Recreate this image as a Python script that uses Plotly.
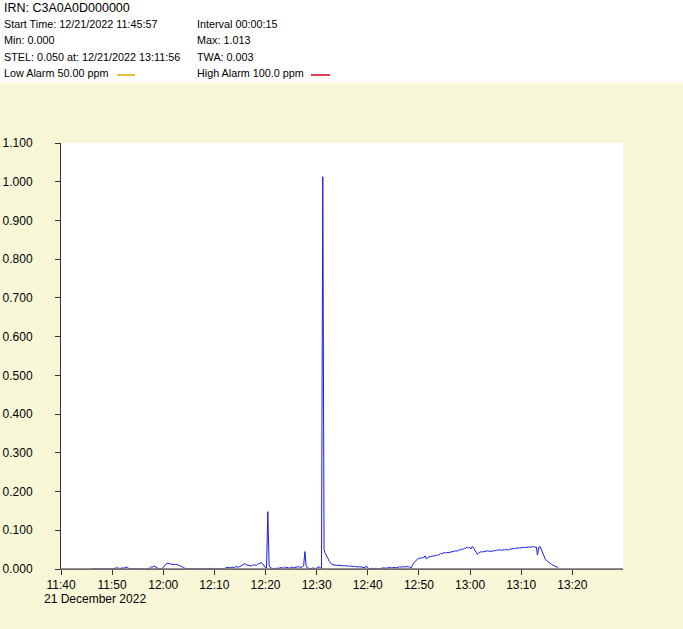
import pandas as pd
import plotly.graph_objects as go

# ---- header info ----
irn = "IRN: C3A0A0D000000"
start_time = "2022-12-21 11:45:57"
interval_s = 15
header_left = ["Start Time: 12/21/2022 11:45:57", "Min: 0.000",
               "STEL: 0.050 at: 12/21/2022 13:11:56", "Low Alarm 50.00 ppm"]
header_right = ["Interval 00:00:15", "Max: 1.013", "TWA: 0.003", "High Alarm 100.0 ppm"]
date_label = "21 December 2022"

# ---- readings (ppm), one row per minute, 15 s interval ----
values = [
    0, 0, 0, 0,                      # 11:46
    0, 0, 0, 0,                      # 11:47
    0, 0, 0, 0,                      # 11:48
    0, 0, 0, 0,                      # 11:49
    0, 0, 0.002, 0.003,              # 11:50
    0.002, 0.003, 0, 0.002,          # 11:51
    0.003, 0.002, 0.003, 0.004,      # 11:52
    0.005, 0.002, 0, 0,              # 11:53
    0, 0, 0, 0,                      # 11:54
    0, 0, 0, 0,                      # 11:55
    0, 0, 0, 0,                      # 11:56
    0, 0, 0.004, 0.006,              # 11:57
    0.005, 0.008, 0.006, 0.003,      # 11:58
    0.002, 0, 0, 0,                  # 11:59
    0.003, 0.008, 0.012, 0.014,      # 12:00
    0.015, 0.014, 0.013, 0.012,      # 12:01
    0.012, 0.011, 0.012, 0.010,      # 12:02
    0.010, 0.009, 0.008, 0.006,      # 12:03
    0.004, 0.002, 0, 0,              # 12:04
    0, 0, 0, 0,                      # 12:05
    0, 0, 0, 0,                      # 12:06
    0, 0, 0, 0,                      # 12:07
    0, 0, 0, 0,                      # 12:08
    0, 0.002, 0, 0,                  # 12:09
    0, 0, 0, 0,                      # 12:10
    0, 0, 0, 0,                      # 12:11
    0, 0.003, 0.004, 0.003,          # 12:12
    0.004, 0.003, 0.005, 0.004,      # 12:13
    0.004, 0.006, 0.005, 0.005,      # 12:14
    0.006, 0.008, 0.010, 0.012,      # 12:15
    0.014, 0.011, 0.010, 0.009,      # 12:16
    0.010, 0.008, 0.009, 0.011,      # 12:17
    0.010, 0.009, 0.012, 0.013,      # 12:18
    0.015, 0.017, 0.012, 0.008,      # 12:19
    0.004, 0.003, 0.148, 0.010,      # 12:20
    0.003, 0.002, 0, 0,              # 12:21
    0.002, 0, 0.003, 0.002,          # 12:22
    0.004, 0.003, 0.002, 0.005,      # 12:23
    0.003, 0.004, 0.003, 0.002,      # 12:24
    0.004, 0.005, 0.003, 0.004,      # 12:25
    0.005, 0.004, 0.006, 0.005,      # 12:26
    0.004, 0.006, 0.008, 0.045,      # 12:27
    0.008, 0.003, 0.002, 0,          # 12:28
    0, 0.002, 0.003, 0,              # 12:29
    0.002, 0.004, 0.006, 0.003,      # 12:30
    0.002, 1.013, 0.050, 0.040,      # 12:31
    0.035, 0.028, 0.020, 0.015,      # 12:32
    0.012, 0.011, 0.010, 0.010,      # 12:33
    0.009, 0.010, 0.009, 0.008,      # 12:34
    0.009, 0.008, 0.009, 0.008,      # 12:35
    0.008, 0.007, 0.008, 0.007,      # 12:36
    0.007, 0.006, 0.007, 0.006,      # 12:37
    0.006, 0.005, 0.006, 0.005,      # 12:38
    0.004, 0.005, 0.003, 0.008,      # 12:39
    0.004, 0, 0, 0.002,              # 12:40
    0, 0, 0.002, 0,                  # 12:41
    0, 0, 0, 0.002,                  # 12:42
    0.003, 0.003, 0.002, 0.003,      # 12:43
    0.004, 0.003, 0.004, 0.003,      # 12:44
    0.004, 0.005, 0.004, 0.003,      # 12:45
    0.005, 0.006, 0.005, 0.006,      # 12:46
    0.007, 0.006, 0.005, 0.007,      # 12:47
    0.006, 0.005, 0.002, 0.010,      # 12:48
    0.015, 0.019, 0.022, 0.025,      # 12:49
    0.028, 0.027, 0.029, 0.030,      # 12:50
    0.029, 0.034, 0.026, 0.030,      # 12:51
    0.031, 0.032, 0.033, 0.034,      # 12:52
    0.033, 0.035, 0.036, 0.035,      # 12:53
    0.038, 0.040, 0.039, 0.041,      # 12:54
    0.043, 0.041, 0.043, 0.042,      # 12:55
    0.043, 0.044, 0.043, 0.045,      # 12:56
    0.046, 0.047, 0.046, 0.048,      # 12:57
    0.050, 0.049, 0.052, 0.051,      # 12:58
    0.054, 0.053, 0.057, 0.054,      # 12:59
    0.056, 0.052, 0.058, 0.054,      # 13:00
    0.049, 0.045, 0.038, 0.041,      # 13:01
    0.044, 0.045, 0.044, 0.045,      # 13:02
    0.046, 0.045, 0.047, 0.046,      # 13:03
    0.046, 0.047, 0.046, 0.048,      # 13:04
    0.047, 0.049, 0.048, 0.050,      # 13:05
    0.049, 0.048, 0.050, 0.049,      # 13:06
    0.051, 0.050, 0.049, 0.051,      # 13:07
    0.052, 0.051, 0.053, 0.052,      # 13:08
    0.054, 0.053, 0.055, 0.054,      # 13:09
    0.055, 0.054, 0.056, 0.055,      # 13:10
    0.056, 0.055, 0.057, 0.056,      # 13:11
    0.057, 0.056, 0.058, 0.056,      # 13:12
    0.057, 0.036, 0.056, 0.058,      # 13:13
    0.050, 0.040, 0.030, 0.026,      # 13:14
    0.022, 0.019, 0.017, 0.015,      # 13:15
    0.012, 0.010, 0.008, 0.007,      # 13:16
    0.005, 0.004,                    # 13:17
]

times = pd.date_range(start=start_time, periods=len(values), freq=f"{interval_s}s")

x_range = ["2022-12-21 11:40:00", "2022-12-21 13:29:55"]
y_range = [0, 1.1]

W, H = 683, 629
ML, MR, MT, MB = 61, 60, 143, 60
PW, PH = W - ML - MR, H - MT - MB


def px(x):
    return (x - ML) / PW


def py(y):
    return (H - MB - y) / PH


FONT = "Liberation Sans, Arial, sans-serif"
BG = "#F8F8D8"
AXIS = "#6E6E6E"

fig = go.Figure()
fig.add_trace(go.Scatter(x=times, y=values, mode="lines",
                         line=dict(color="#1C1CE6", width=1), hoverinfo="x+y"))

shapes = [
    dict(type="rect", xref="paper", yref="paper", x0=px(0), x1=px(W), y0=py(83), y1=py(0),
         fillcolor="white", line=dict(width=0), layer="below"),
    dict(type="line", xref="paper", yref="paper", x0=px(117), x1=px(135), y0=py(75), y1=py(75),
         line=dict(color="#E0A800", width=1.5)),
    dict(type="line", xref="paper", yref="paper", x0=px(311), x1=px(330), y0=py(75), y1=py(75),
         line=dict(color="#D00018", width=1.5)),
    # baseline drawn over the trace so zero readings sit under the axis
    dict(type="line", xref="paper", yref="y", x0=0, x1=1, y0=0, y1=0,
         line=dict(color=AXIS, width=1.5), layer="above"),
]

annotations = [dict(text=irn, xref="paper", yref="paper", x=px(2), y=py(8),
                    xanchor="left", yanchor="middle", showarrow=False,
                    font=dict(family=FONT, size=12.5, color="black"))]
for i, t in enumerate(header_left):
    annotations.append(dict(text=t, xref="paper", yref="paper", x=px(2), y=py(24 + 16.4 * i),
                            xanchor="left", yanchor="middle", showarrow=False,
                            font=dict(family=FONT, size=10.8, color="black")))
for i, t in enumerate(header_right):
    annotations.append(dict(text=t, xref="paper", yref="paper", x=px(195), y=py(24 + 16.4 * i),
                            xanchor="left", yanchor="middle", showarrow=False,
                            font=dict(family=FONT, size=10.8, color="black")))
annotations.append(dict(text=date_label, xref="paper", yref="paper", x=px(42), y=py(599),
                        xanchor="left", yanchor="middle", showarrow=False,
                        font=dict(family=FONT, size=12, color="black")))

fig.update_layout(
    width=W, height=H,
    margin=dict(l=ML, r=MR, t=MT, b=MB, pad=0, autoexpand=False),
    paper_bgcolor=BG, plot_bgcolor="white",
    showlegend=False,
    font=dict(family=FONT, size=12, color="black"),
    shapes=shapes, annotations=annotations,
    xaxis=dict(range=x_range, type="date", tickformat="%H:%M",
               tick0="2022-12-21 11:40:00", dtick=600000, automargin=False,
               showgrid=False, zeroline=False, showline=True, linecolor=AXIS, linewidth=1,
               ticks="outside", ticklen=5, tickcolor="#333333", tickwidth=1,
               tickfont=dict(family=FONT, size=12, color="black"), fixedrange=True),
    yaxis=dict(range=y_range, tickformat=".3f", dtick=0.1, tick0=0, automargin=False,
               showgrid=False, zeroline=False, showline=True, linecolor="#333333", linewidth=1,
               ticks="outside", ticklen=5, tickcolor="#333333", tickwidth=1,
               ticklabelstandoff=20,
               tickfont=dict(family=FONT, size=12, color="black"), fixedrange=True),
)

fig.write_html("out.html", config={"displayModeBar": False},
               post_script="document.body.style.margin='0';document.body.style.background='%s';" % BG)
